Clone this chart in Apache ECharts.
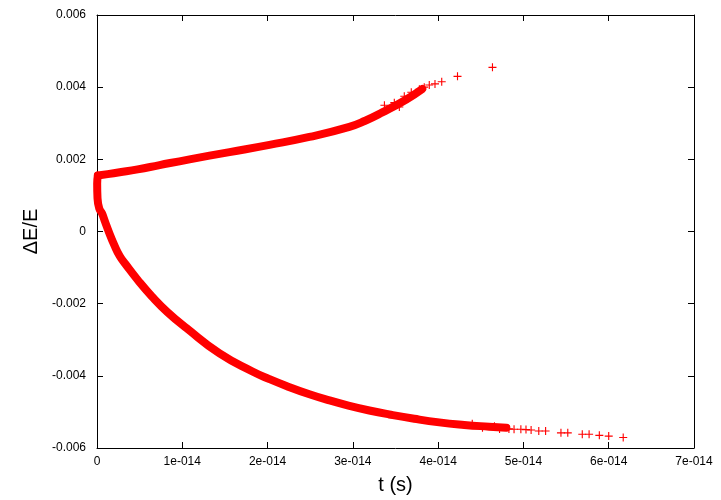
<!DOCTYPE html>
<html>
<head>
<meta charset="utf-8">
<script src="https://cdn.jsdelivr.net/npm/echarts@6/dist/echarts.min.js"></script>
<style>
  html, body { margin: 0; padding: 0; background: #ffffff; }
  #chart { width: 721px; height: 500px; }
</style>
</head>
<body>
<div id="chart"></div>
<script>
// Time is kept in units of 1e-14 s, relative energy error in units of 1e-3.
const xTickLabels = ['0', '1e-014', '2e-014', '3e-014', '4e-014', '5e-014', '6e-014', '7e-014'];
const yTickLabels = ['-0.006', '-0.004', '-0.002', '0', '0.002', '0.004', '0.006'];

// Dense upper branch (energy drifting upward)
const upperT = [0.01, 0.125, 0.266, 0.477, 0.734, 1.085, 1.554, 2.022, 2.49, 2.959, 3.145, 3.345, 3.627, 3.814];
const upperE = [1.55, 1.59, 1.64, 1.72, 1.84, 2.00, 2.20, 2.40, 2.62, 2.90, 3.07, 3.30, 3.66, 3.95];

// Sparse points at the end of the upper branch
const upperTailT = [3.37, 3.486, 3.545, 3.603, 3.685, 3.78, 3.837, 3.896, 3.963, 4.042, 4.227, 4.637];
const upperTailE = [3.50, 3.57, 3.45, 3.75, 3.86, 3.94, 4.00, 4.06, 4.09, 4.15, 4.30, 4.55];

// Dense lower branch (energy drifting downward)
const lowerT = [0.01, 0.002, 0.006, 0.026, 0.059, 0.096, 0.137, 0.207, 0.266, 0.333, 0.48, 0.644, 0.824, 1.05,
                1.437, 1.823, 2.022, 2.221, 2.491, 2.725, 2.959, 3.193, 3.427, 3.72, 4.013, 4.306, 4.598, 4.80];
const lowerE = [1.55, 1.33, 0.92, 0.64, 0.50, 0.26, 0.0, -0.40, -0.68, -0.90, -1.35, -1.80, -2.23, -2.68,
                -3.38, -3.88, -4.09, -4.28, -4.51, -4.68, -4.83, -4.96, -5.07, -5.19, -5.29, -5.36, -5.41, -5.44];

// Sparse points at the end of the lower branch
const lowerTailT = [4.40, 4.52, 4.66, 4.72, 4.83, 4.89, 4.97, 5.03, 5.09, 5.18, 5.26, 5.44, 5.52, 5.69, 5.77, 5.89, 6.00, 6.17];
const lowerTailE = [-5.33, -5.44, -5.40, -5.47, -5.47, -5.48, -5.48, -5.49, -5.50, -5.53, -5.53, -5.58, -5.58, -5.62, -5.62, -5.65, -5.67, -5.71];

const RED = '#ff0000';
const PLUS = 'path://M4.3,0H5.7V4.3H10V5.7H5.7V10H4.3V5.7H0V4.3H4.3Z';
const FONT = '"Liberation Sans", Arial, Helvetica, sans-serif';

const pairs = (ts, es) => ts.map((t, i) => [t, es[i]]);

const axisLine = { show: true, onZero: false, lineStyle: { color: '#000', width: 1 } };
const axisTick = { show: true, inside: true, length: 6, lineStyle: { color: '#000', width: 1 } };

const chart = echarts.init(document.getElementById('chart'), null, { renderer: 'canvas' });

// the dense runs of crosses merge into a solid trace
const bandSeries = (ts, es) => ({
  type: 'line',
  data: pairs(ts, es),
  smooth: 0.5,
  showSymbol: false,
  symbol: 'none',
  clip: false,
  lineStyle: { color: RED, width: 8, cap: 'round', join: 'round' },
  animation: false,
  z: 3
});

const tailSeries = (ts, es) => ({
  type: 'scatter',
  data: pairs(ts, es),
  symbol: PLUS,
  symbolSize: 8,
  clip: false,
  itemStyle: { color: RED, opacity: 1 },
  animation: false,
  z: 4
});

chart.setOption({
  animation: false,
  backgroundColor: '#ffffff',
  grid: { left: 97, right: 27, top: 15, bottom: 49, containLabel: false },
  xAxis: [
    {
      type: 'value', min: 0, max: 7, interval: 1, position: 'bottom',
      axisLine, axisTick, splitLine: { show: false },
      axisLabel: {
        color: '#000', fontSize: 12, fontFamily: FONT, margin: 8,
        formatter: v => xTickLabels[Math.round(v)]
      },
      name: 't (s)', nameLocation: 'middle', nameGap: 27,
      nameTextStyle: { color: '#000', fontSize: 20, fontFamily: FONT }
    },
    {
      type: 'value', min: 0, max: 7, interval: 1, position: 'top',
      axisLine, axisTick, splitLine: { show: false }, axisLabel: { show: false }
    }
  ],
  yAxis: [
    {
      type: 'value', min: -6, max: 6, interval: 2, position: 'left',
      axisLine, axisTick, splitLine: { show: false },
      axisLabel: {
        color: '#000', fontSize: 12, fontFamily: FONT, margin: 11,
        formatter: v => yTickLabels[Math.round((v + 6) / 2)]
      },
      name: 'ΔE/E', nameLocation: 'middle', nameGap: 52,
      nameTextStyle: { color: '#000', fontSize: 20, fontFamily: FONT }
    },
    {
      type: 'value', min: -6, max: 6, interval: 2, position: 'right',
      axisLine, axisTick, splitLine: { show: false }, axisLabel: { show: false }
    }
  ],
  series: [
    bandSeries(upperT, upperE),
    bandSeries(lowerT, lowerE),
    tailSeries(upperTailT, upperTailE),
    tailSeries(lowerTailT, lowerTailE)
  ]
});
</script>
</body>
</html>
